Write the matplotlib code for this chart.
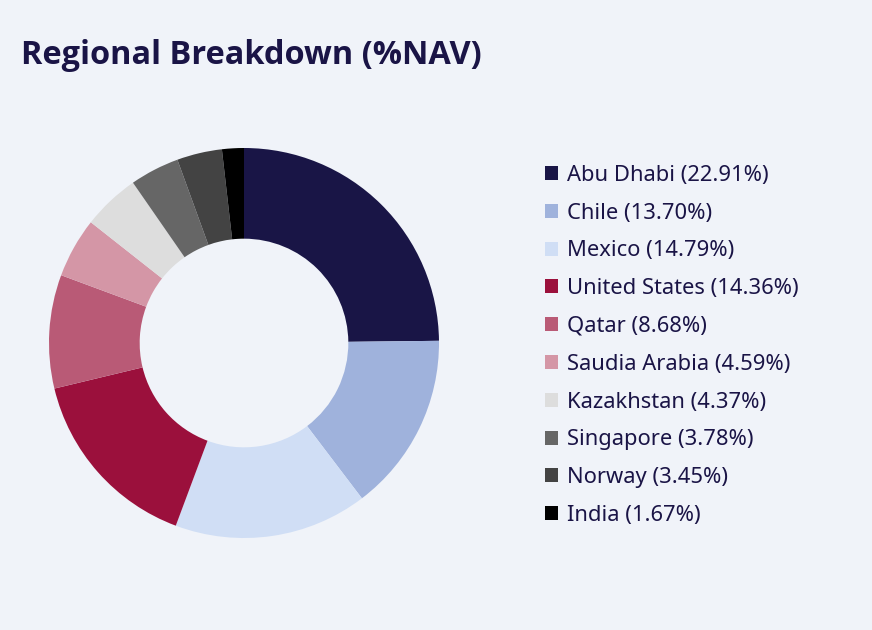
import numpy as np
import matplotlib.pyplot as plt
from matplotlib.patches import Patch

regions = ["Abu Dhabi", "Chile", "Mexico", "United States", "Qatar",
           "Saudia Arabia", "Kazakhstan", "Singapore", "Norway", "India"]
weights = [22.91, 13.70, 14.79, 14.36, 8.68, 4.59, 4.37, 3.78, 3.45, 1.67]
colors = ["#191546", "#9fb2dc", "#d0def5", "#9b103c", "#b95a76",
          "#d496a6", "#dddddd", "#666666", "#434343", "#000000"]

bg = "#f0f3f9"
ink = "#1a1446"
plt.rcParams['font.family'] = ['Noto Sans', 'DejaVu Sans']

W, H = 872, 630
fig = plt.figure(figsize=(W / 100, H / 100), dpi=100, facecolor=bg)

# donut: center (244,343) px, radius 195 px
cx, cy, r = 244, 343, 195
ax = fig.add_axes([(cx - r) / W, (H - cy - r) / H, 2 * r / W, 2 * r / H])
ax.set_facecolor(bg)
wedges, _ = ax.pie(weights, colors=colors, startangle=90, counterclock=False,
                   radius=1, wedgeprops=dict(width=0.465, linewidth=0))
ax.set_xlim(-1, 1)
ax.set_ylim(-1, 1)
ax.set_aspect('equal')
ax.axis('off')

fig.text(21 / W, 1 - 55 / H, "Regional Breakdown (%NAV)", fontsize=23.4,
         fontweight='bold', family=['Open Sans', 'DejaVu Sans'],
         color=ink, va='center', ha='left')

labels = [f"{n} ({v:.2f}%)" for n, v in zip(regions, weights)]
handles = [Patch(facecolor=c, edgecolor='none') for c in colors]
leg = fig.legend(handles, labels, loc='upper left',
                 bbox_to_anchor=(536 / W, 1 - 156 / H), frameon=False,
                 fontsize=15.8, handlelength=0.6, handleheight=0.6,
                 handletextpad=0.4, labelspacing=0.765, borderaxespad=0)
for t in leg.get_texts():
    t.set_color(ink)

fig.savefig("out.png", dpi=100, facecolor=bg)
